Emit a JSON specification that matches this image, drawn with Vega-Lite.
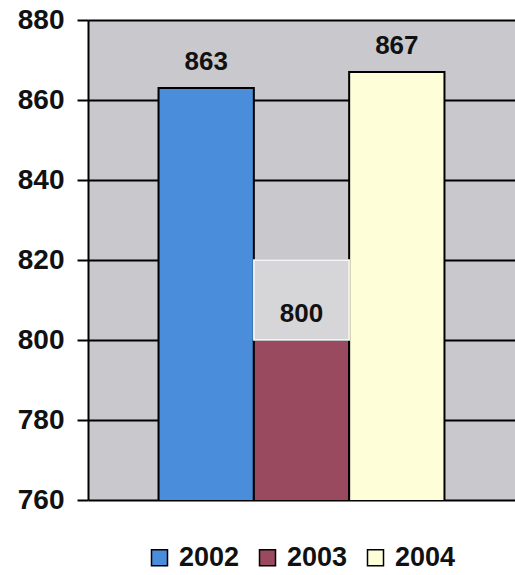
{
  "$schema": "https://vega.github.io/schema/vega-lite/v6.json",
  "width": 427,
  "height": 480,
  "autosize": "none",
  "padding": {"left": 88, "top": 20, "right": 0, "bottom": 75},
  "background": "white",
  "config": {
    "font": "Liberation Sans",
    "view": {"fill": "#c9c8cc", "stroke": null}
  },
  "data": {"values": [
    {"year": "2002", "value": 863},
    {"year": "2003", "value": 800},
    {"year": "2004", "value": 867}
  ]},
  "encoding": {
    "x": {"field": "year", "type": "nominal", "axis": null,
          "scale": {"paddingInner": 0, "paddingOuter": 0.74}}
  },
  "layer": [
    {
      "mark": {"type": "bar", "stroke": "black", "strokeWidth": 2, "clip": true},
      "encoding": {
        "y": {"field": "value", "type": "quantitative",
              "scale": {"domain": [760, 880], "nice": false, "zero": false},
              "axis": {"values": [760, 780, 800, 820, 840, 860, 880], "title": null,
                       "grid": true, "gridColor": "black", "gridWidth": 2, "gridOpacity": 1,
                       "domainColor": "black", "domainWidth": 2,
                       "tickColor": "black", "tickWidth": 2, "tickSize": 11,
                       "labelFont": "Liberation Sans", "labelFontSize": 28, "labelFontWeight": "bold",
                       "labelColor": "#111", "labelPadding": 13}},
        "color": {"field": "year", "type": "nominal",
                  "scale": {"domain": ["2002", "2003", "2004"], "range": ["#4a8edb", "#9a4a5f", "#fefed8"]},
                  "legend": {"orient": "none", "legendX": 58, "legendY": 524, "direction": "horizontal", "title": null,
                             "symbolType": "square", "symbolSize": 256, "symbolStrokeColor": "black",
                             "symbolStrokeWidth": 1.5, "labelFontSize": 27, "labelFontWeight": "bold",
                             "labelColor": "#111", "labelFont": "Liberation Sans",
                             "columnPadding": 14, "labelOffset": 6}}
      }
    },
    {
      "transform": [{"filter": "datum.year === '2003'"}],
      "mark": {"type": "rect", "fill": "#d6d5d8", "stroke": "white", "strokeWidth": 1.5},
      "encoding": {
        "y": {"field": "value", "type": "quantitative"},
        "y2": {"datum": 820}
      }
    },
    {
      "mark": {"type": "text", "baseline": "alphabetic", "dy": -18, "fontSize": 26, "fontWeight": "bold", "color": "#111"},
      "encoding": {
        "y": {"field": "value", "type": "quantitative"},
        "text": {"field": "value", "type": "quantitative"}
      }
    }
  ]
}
